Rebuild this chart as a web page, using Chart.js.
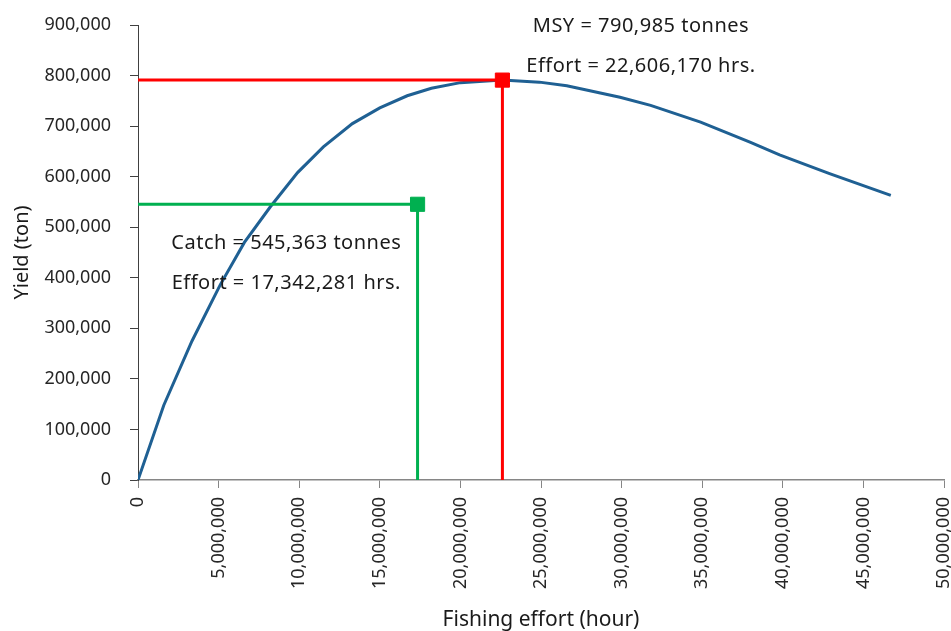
<!DOCTYPE html>
<html>

<head>
  <meta charset="utf-8">
  <title>Fishing effort vs yield</title>
  <style>
    body {
      margin: 0;
      padding: 0;
      background-color: #FFF;
    }

    .chart-box {
      width: 951px;
      height: 631px;
    }
  </style>
</head>

<body>
  <div class="chart-box">
    <canvas id="yieldChart"></canvas>
  </div>

  <script src="https://cdn.jsdelivr.net/npm/chart.js"></script>

  <script>
    // Yield curve (effort in hours, yield in tons)
    const effort = [0, 1600000, 3350000, 5100000, 6600000, 8200000, 9900000, 11500000, 13300000,
      15000000, 16700000, 18200000, 20000000, 22600000, 24900000, 26600000, 29900000, 31800000,
      34900000, 38000000, 39800000, 42900000, 46700000];
    const yieldTon = [0, 148000, 275000, 386000, 470000, 540000, 608000, 659000, 705000,
      736000, 760000, 775000, 786000, 791000, 787000, 780000, 757000, 741000,
      708000, 668000, 643000, 606000, 563000];

    // MSY point and the current catch point
    const msyPoint = [22606170, 790985];
    const catchPoint = [17342281, 545363];

    // Notes: [text, effort, yield] where the text is centred
    const notes = [
      ['MSY = 790,985 tonnes', 31200000, 898000],
      ['Effort = 22,606,170 hrs.', 31200000, 819000],
      ['Catch = 545,363 tonnes', 9200000, 469000],
      ['Effort = 17,342,281 hrs.', 9200000, 390000]
    ];

    const textFont = 'Noto Sans';

    // draw the notes on top of everything
    const notesPlugin = {
      id: 'notes',
      afterDatasetsDraw(chart) {
        const c = chart.ctx;
        const xs = chart.scales.x;
        const ys = chart.scales.y;
        c.save();
        c.font = '20px "' + textFont + '"';
        c.letterSpacing = '0.5px';
        c.fillStyle = '#1a1a1a';
        c.textAlign = 'center';
        c.textBaseline = 'middle';
        notes.forEach(n => {
          c.fillText(n[0], xs.getPixelForValue(n[1]), ys.getPixelForValue(n[2]));
        });
        c.restore();
      }
    };

    function guide(point, color) {
      return {
        data: [
          { x: 0, y: point[1] },
          { x: point[0], y: point[1] },
          { x: point[0], y: 0 }
        ],
        borderColor: color,
        backgroundColor: color,
        borderWidth: 3,
        pointStyle: 'rect',
        pointRadius: [0, 10, 0],
        pointBorderWidth: 1,
        tension: 0,
        order: 0
      };
    }

    const ctx = document.getElementById('yieldChart').getContext('2d');
    new Chart(ctx, {
      type: 'line',
      data: {
        datasets: [
          guide(msyPoint, '#ff0000'),
          guide(catchPoint, '#00b050'),
          {
            data: effort.map((e, i) => ({ x: e, y: yieldTon[i] })),
            borderColor: '#1f6093',
            borderWidth: 3,
            pointRadius: 0,
            tension: 0,
            order: 1
          }
        ]
      },
      options: {
        responsive: true,
        maintainAspectRatio: false,
        animation: false,
        locale: 'en-US',
        layout: { padding: { left: 0, right: 7, top: 25, bottom: 0 } },
        plugins: {
          legend: { display: false },
          tooltip: { enabled: false }
        },
        scales: {
          x: {
            type: 'linear',
            min: 0,
            max: 50000000,
            ticks: {
              stepSize: 5000000,
              minRotation: 90,
              maxRotation: 90,
              padding: 9,
              color: '#262626',
              font: { family: textFont, size: 18 }
            },
            grid: { drawOnChartArea: false, tickLength: 8, color: '#868686' },
            border: { color: '#868686', width: 1.5 },
            title: {
              display: true,
              text: 'Fishing effort (hour)',
              color: '#1a1a1a',
              font: { family: textFont, size: 21 },
              padding: { top: 10, bottom: -2 }
            },
            // fixed height, and let the last label run off the edge like the original
            afterFit(scale) {
              scale.height = 151;
              scale.paddingLeft = 0;
              scale.paddingRight = 0;
            }
          },
          y: {
            min: 0,
            max: 900000,
            ticks: {
              stepSize: 100000,
              padding: 19,
              color: '#262626',
              font: { family: textFont, size: 18 }
            },
            grid: { drawOnChartArea: false, tickLength: 8, color: '#404040' },
            border: { color: '#404040', width: 1 },
            title: {
              display: true,
              text: 'Yield (ton)',
              color: '#1a1a1a',
              font: { family: textFont, size: 20 },
              padding: { top: 10, bottom: 0 }
            },
            afterFit(scale) {
              scale.width = 138;
              scale.paddingTop = 0;
              scale.paddingBottom = 0;
            }
          }
        }
      },
      plugins: [notesPlugin]
    });
  </script>
</body>

</html>
